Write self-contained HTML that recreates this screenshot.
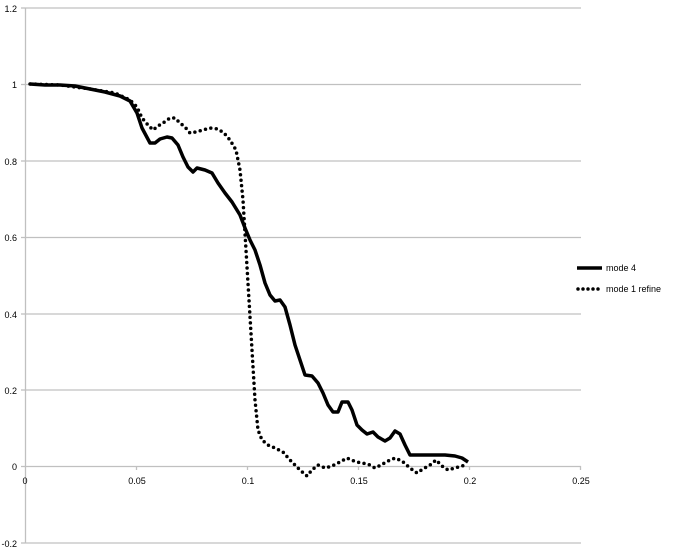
<!DOCTYPE html>
<html><head><style>body{margin:0;background:#fff}svg{display:block}text{font-family:"Liberation Sans",sans-serif;font-size:9px;fill:#000}</style></head><body>
<svg width="674" height="554" xmlns="http://www.w3.org/2000/svg">
<g stroke="#c0c0c0" stroke-width="1.3">
<line x1="25" y1="8" x2="581" y2="8"/><line x1="25" y1="84.5" x2="581" y2="84.5"/><line x1="25" y1="161" x2="581" y2="161"/><line x1="25" y1="237.5" x2="581" y2="237.5"/><line x1="25" y1="314" x2="581" y2="314"/><line x1="25" y1="390" x2="581" y2="390"/><line x1="25" y1="466.5" x2="581" y2="466.5"/><line x1="25" y1="543" x2="581" y2="543"/>
<line x1="25.5" y1="8" x2="25.5" y2="543"/>
<line x1="21" y1="8" x2="25" y2="8"/><line x1="21" y1="84.5" x2="25" y2="84.5"/><line x1="21" y1="161" x2="25" y2="161"/><line x1="21" y1="237.5" x2="25" y2="237.5"/><line x1="21" y1="314" x2="25" y2="314"/><line x1="21" y1="390" x2="25" y2="390"/><line x1="21" y1="466.5" x2="25" y2="466.5"/><line x1="21" y1="543" x2="25" y2="543"/>
<line x1="136.5" y1="466" x2="136.5" y2="470"/><line x1="247.5" y1="466" x2="247.5" y2="470"/><line x1="358.5" y1="466" x2="358.5" y2="470"/><line x1="469.5" y1="466" x2="469.5" y2="470"/><line x1="580.5" y1="466" x2="580.5" y2="470"/>
</g>
<g text-anchor="end"><text x="17" y="12">1.2</text><text x="17" y="88">1</text><text x="17" y="165">0.8</text><text x="17" y="241">0.6</text><text x="17" y="318">0.4</text><text x="17" y="394">0.2</text><text x="17" y="470">0</text><text x="17" y="547">-0.2</text></g>
<g text-anchor="middle"><text x="25" y="484">0</text><text x="137" y="484">0.05</text><text x="248" y="484">0.1</text><text x="359" y="484">0.15</text><text x="470" y="484">0.2</text><text x="581" y="484">0.25</text></g>
<polyline fill="none" stroke="#000" stroke-width="3.5" stroke-linejoin="round" points="30,84 45,85 60,85 75,86 90,89 105,92 120,96 130,101 137,113 142,128 150,143 155,143 160,139 167,137 172,138 178,145 183,157 188,167 193,172 197,168 205,170 212,173 218,183 225,193 232,202 240,215 245,228 250,240 255,250 260,265 265,283 270,295 275,301 280,300 285,307 290,325 295,345 300,360 305,375 312,376 318,383 323,393 328,405 333,412 338,412 342,402 348,402 352,410 357,425 362,430 367,434 373,432 378,437 385,441 390,438 395,431 400,434 405,445 410,455 415,455 420,455 427,455 435,455 445,455 455,456 462,458 468,462"/>
<polyline fill="none" stroke="#000" stroke-width="3.5" stroke-linecap="round" stroke-dasharray="0 5.5" points="30,84 60,85 90,89 115,93 130,100 137,107 142,118 148,125 153,130 158,126 163,123 170,118 175,118 180,123 185,127 190,133 196,132 203,130 210,128 218,129 224,133 230,140 236,150 240,170 243,200 246,250 249,300 252,350 255,400 258,430 262,440 268,445 275,448 283,452 290,460 295,465 300,470 307,476 312,470 318,465 325,468 332,466 340,462 347,458 354,461 361,463 368,464 375,468 381,465 388,461 395,458 402,461 410,468 417,473 423,469 430,465 436,460 442,466 448,470 455,468 462,466 468,464"/>
<line x1="577" y1="268" x2="602" y2="268" stroke="#000" stroke-width="3.5"/>
<line x1="578" y1="289" x2="602" y2="289" stroke="#000" stroke-width="3.5" stroke-linecap="round" stroke-dasharray="0 5"/>
<text x="606" y="271">mode 4</text><text x="606" y="292">mode 1 refine</text>
</svg>
</body></html>
